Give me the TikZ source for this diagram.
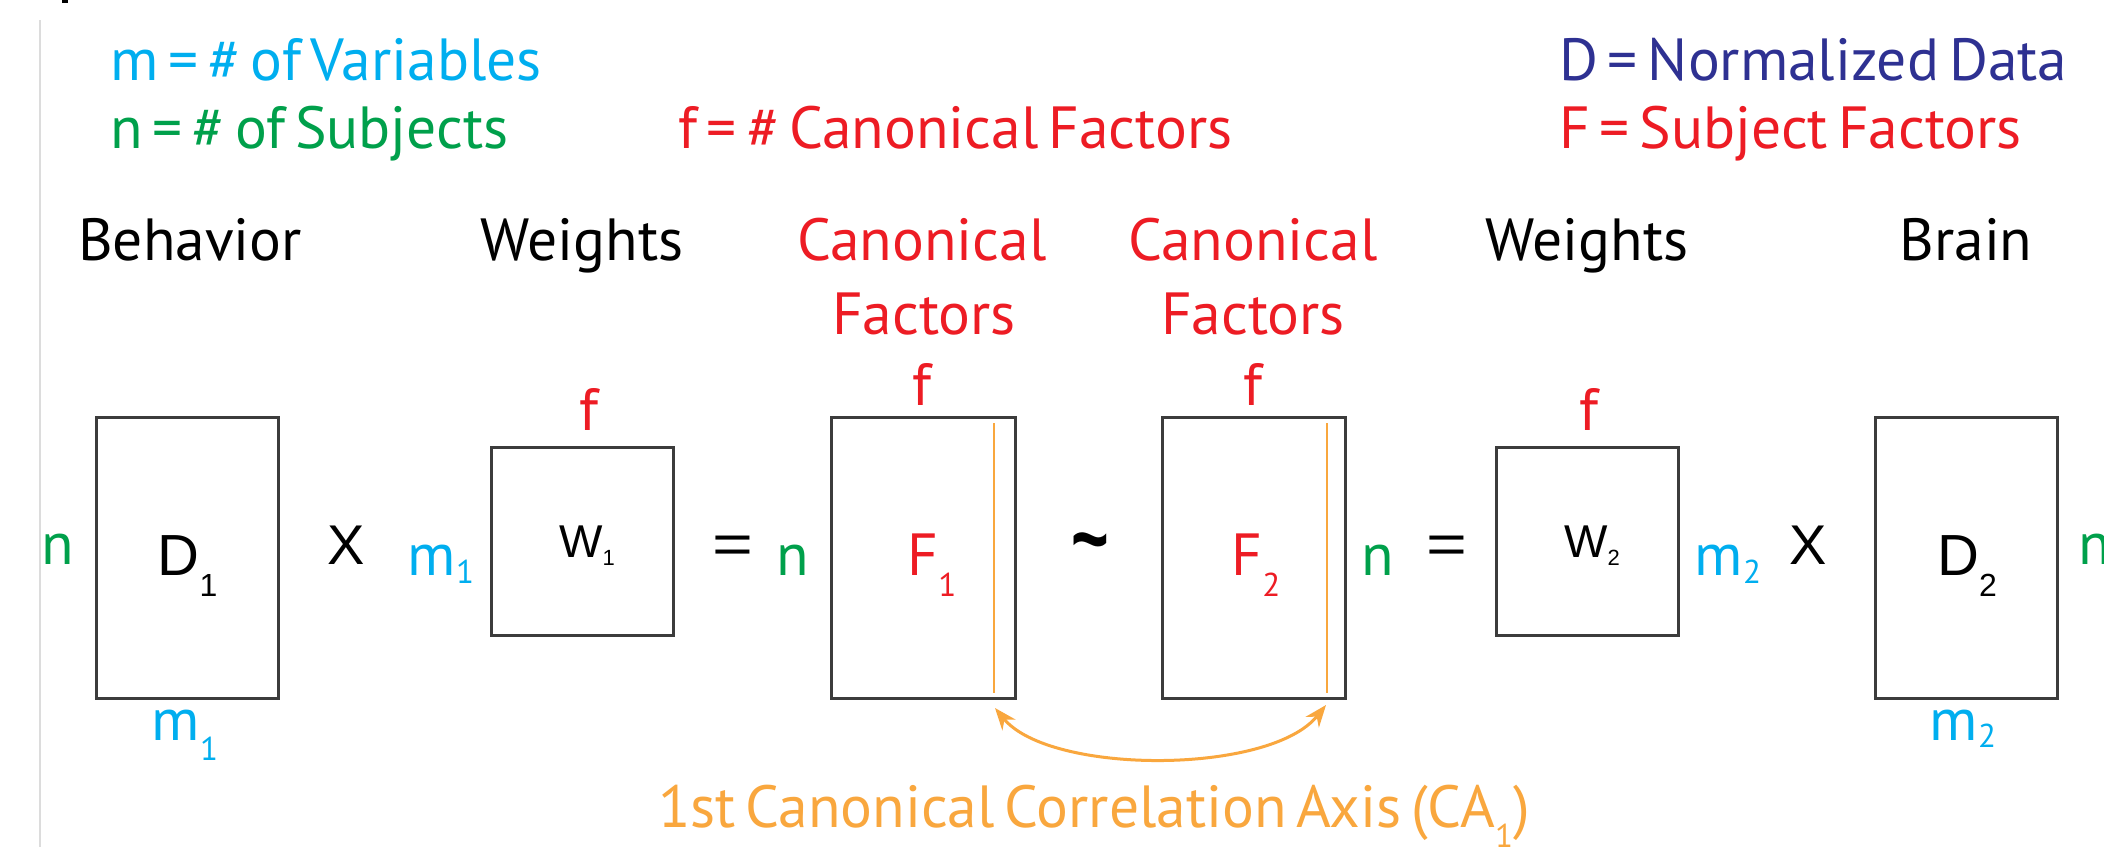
\documentclass[tikz,border=0pt]{standalone}
\usepackage{fontspec}
\setmainfont{PT Sans}[WordSpace={0.63}]
\newfontfamily\hv{Liberation Sans}
\usetikzlibrary{arrows.meta}
\definecolor{cyanc}{HTML}{00AEEF}
\definecolor{greenc}{HTML}{00A04B}
\definecolor{redc}{HTML}{ED1C24}
\definecolor{navyc}{HTML}{2E3192}
\definecolor{orangec}{HTML}{F9A73E}
\definecolor{boxc}{HTML}{3C3C3C}
\definecolor{rulec}{HTML}{DCDCDC}
\newcommand\lowsub[3]{#2\raisebox{-#1pt}{\fontsize{33}{33}\selectfont #3}}
\newcommand\hvsub[3]{#2\raisebox{-#1pt}{\fontsize{32}{32}\selectfont #3}}
\begin{document}
\begin{tikzpicture}[x=1pt,y=-1pt,
  every node/.style={inner sep=0pt,outer sep=0pt},
  big/.style={font=\fontsize{59.5}{74}\selectfont},
  hvbig/.style={font=\hv\fontsize{58}{60}\selectfont},
  hvw/.style={font=\hv\fontsize{46}{50}\selectfont},
  opsym/.style={font=\hv\fontsize{56}{60}\selectfont},
  mat/.style={draw=boxc,line width=3pt},
  caline/.style={draw=orangec,line width=2pt},
  caarrow/.style={draw=orangec,line width=3pt,{Stealth[length=22pt,width=17pt]}-{Stealth[length=22pt,width=17pt]}}]
\useasboundingbox (0,0) rectangle (2104,847);
\fill[white] (0,0) rectangle (2104,847);
% left rule and stray mark
\draw[rulec,line width=2pt] (40,20) -- (40,847);
\fill[black] (62,0) rectangle (68,3);
% legend
\node[big,cyanc,anchor=base west] (lm) at (110,80) {m = \# of Variables};
\node[big,greenc,anchor=base west] (ln) at (110,148) {n = \# of Subjects};
\node[big,redc,anchor=base west] (lf) at (678,148) {f = \# Canonical Factors};
\node[big,navyc,anchor=base west] (lD) at (1559,80) {D = Normalized Data};
\node[big,redc,anchor=base west] (lF) at (1559,148) {F = Subject Factors};
% headers
\node[big,anchor=base] (h1) at (190,260) {Behavior};
\node[big,anchor=base] (h2) at (582,260) {Weights};
\node[big,redc,anchor=base] (h3) at (922,260) {Canonical};
\node[big,redc,anchor=base] (h3b) at (924,334) {Factors};
\node[big,redc,anchor=base] (h4) at (1253,260) {Canonical};
\node[big,redc,anchor=base] (h4b) at (1253,334) {Factors};
\node[big,anchor=base] (h5) at (1587,260) {Weights};
\node[big,anchor=base] (h6) at (1966,260) {Brain};
% f labels
\node[big,redc,anchor=base] (fW1) at (589,430) {f};
\node[big,redc,anchor=base] (fF1) at (922,405) {f};
\node[big,redc,anchor=base] (fF2) at (1253,405) {f};
\node[big,redc,anchor=base] (fW2) at (1589,430) {f};
% matrices
\node[mat,minimum width=182pt,minimum height=281pt] (D1) at (187,557.5) {};
\node[mat,minimum width=182pt,minimum height=188pt] (W1) at (582,541) {};
\node[mat,minimum width=184pt,minimum height=281pt] (F1) at (923,557.5) {};
\node[mat,minimum width=183pt,minimum height=281pt] (F2) at (1253.5,557.5) {};
\node[mat,minimum width=182pt,minimum height=188pt] (W2) at (1587,541) {};
\node[mat,minimum width=182pt,minimum height=281pt] (D2) at (1966,557.5) {};
% canonical axis lines
\coordinate (c1t) at (994,423); \coordinate (c1b) at (994,693);
\coordinate (c2t) at (1327,423); \coordinate (c2b) at (1327,693);
\draw[caline] (c1t) -- (c1b);
\draw[caline] (c2t) -- (c2b);
% matrix labels
\node[hvbig,anchor=base] (tD1) at (187.5,575) {\hvsub{21}{D}{1}};
\node[hvw,anchor=base] (tW1) at (587,557) {\hvsub{8}{W}{\fontsize{22}{22}\selectfont 1}};
\node[big,redc,anchor=base] (tF1) at (932,575) {\lowsub{21}{F}{1}};
\node[big,redc,anchor=base] (tF2) at (1256,575) {\lowsub{21}{F}{2}};
\node[hvw,anchor=base] (tW2) at (1592,557) {\hvsub{8}{W}{\fontsize{22}{22}\selectfont 2}};
\node[hvbig,anchor=base] (tD2) at (1967,575) {\hvsub{21}{D}{2}};
% dimension labels
\node[big,greenc,anchor=base] (n1) at (58,564) {n};
\node[big,cyanc,anchor=base] (m1b) at (185,740) {\lowsub{20}{m}{1}};
\node[big,cyanc,anchor=base] (m1r) at (441,575) {\lowsub{8}{m}{1}};
\node[big,greenc,anchor=base] (n2) at (793,575) {n};
\node[big,greenc,anchor=base] (n3) at (1378,575) {n};
\node[big,cyanc,anchor=base] (m2r) at (1728,575) {\lowsub{8}{m}{2}};
\node[big,cyanc,anchor=base] (m2b) at (1963,740) {\lowsub{7}{m}{2}};
\node[big,greenc,anchor=base west] (n4) at (2078,564) {n};
% operators
\node[opsym,anchor=base] (x1) at (346,564) {X};
\node[opsym,anchor=base] (eq1) at (733,563) {\scalebox{1.25}[1]{=}};
\node[opsym,anchor=base] (tl) at (1090,569) {\bfseries\scalebox{1.15}[1.6]{\textasciitilde}};
\node[opsym,anchor=base] (eq2) at (1447,563) {\scalebox{1.25}[1]{=}};
\node[opsym,anchor=base] (x2) at (1808,564) {X};
% canonical correlation arrow
\coordinate (a1) at (995,708);
\coordinate (a2) at (1326,705);
\draw[caarrow] (a1) .. controls (1050,775) and (1270,775) .. (a2);
\node[big,orangec,anchor=base west] (cap) at (658,827) {1st Canonical Correlation Axis (\lowsub{20}{CA}{1})};
\end{tikzpicture}
\end{document}
